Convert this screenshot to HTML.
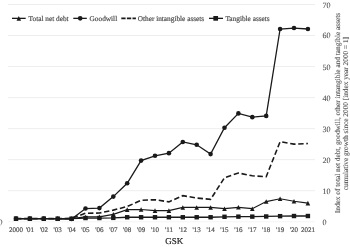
<!DOCTYPE html>
<html><head><meta charset="utf-8"><style>
html,body{margin:0;padding:0;background:#fff;}
svg{display:block;will-change:transform;}
text{font-family:"Liberation Serif",serif;fill:#505050;text-rendering:geometricPrecision;stroke:#505050;stroke-width:0.2px;}
.lg{font-size:7.3px;}
.xl{font-size:7px;text-anchor:middle;}
.yl{font-size:8.1px;stroke-width:0.1px;}
.gsk{font-size:9px;text-anchor:middle;fill:#262626;stroke:#262626;}
.at{font-size:7.3px;text-anchor:middle;stroke-width:0.1px;}
</style></head><body>
<svg width="350" height="247" viewBox="0 0 350 247">
<line x1="8" y1="221.75" x2="315" y2="221.75" stroke="#f4f4f4" stroke-width="1"/>
<line x1="8" y1="190.71" x2="315" y2="190.71" stroke="#eeeeee" stroke-width="1"/>
<line x1="8" y1="159.67" x2="315" y2="159.67" stroke="#eeeeee" stroke-width="1"/>
<line x1="8" y1="128.63" x2="315" y2="128.63" stroke="#eeeeee" stroke-width="1"/>
<line x1="8" y1="97.59" x2="315" y2="97.59" stroke="#eeeeee" stroke-width="1"/>
<line x1="8" y1="66.55" x2="315" y2="66.55" stroke="#eeeeee" stroke-width="1"/>
<line x1="8" y1="35.51" x2="315" y2="35.51" stroke="#eeeeee" stroke-width="1"/>
<line x1="8" y1="4.47" x2="315" y2="4.47" stroke="#eeeeee" stroke-width="1"/>
<polyline points="16.00,218.65 29.90,218.65 43.80,218.65 57.70,218.65 71.60,218.65 85.50,216.94 99.40,216.78 113.30,214.30 127.20,209.64 141.10,209.49 155.00,210.58 168.90,210.58 182.80,207.47 196.70,207.47 210.60,207.47 224.50,208.71 238.40,207.29 252.30,208.71 266.20,201.57 280.10,198.78 294.00,201.26 307.90,203.13" fill="none" stroke="#1a1a1a" stroke-width="1.2"/>
<polyline points="16.00,218.65 29.90,218.65 43.80,218.65 57.70,218.80 71.60,219.05 85.50,208.56 99.40,208.09 113.30,196.61 127.20,183.26 141.10,160.60 155.00,155.79 168.90,153.15 182.80,141.98 196.70,144.77 210.60,154.08 224.50,127.70 238.40,113.42 252.30,117.15 266.20,115.90 280.10,28.99 294.00,28.06 307.90,28.99" fill="none" stroke="#1a1a1a" stroke-width="1.3"/>
<polyline points="16.00,218.65 29.90,218.65 43.80,218.65 57.70,218.65 71.60,218.34 85.50,213.21 99.40,213.06 113.30,210.11 127.20,206.54 141.10,200.33 155.00,199.71 168.90,201.88 182.80,195.68 196.70,198.00 210.60,199.40 224.50,177.67 238.40,173.02 252.30,175.81 266.20,176.74 280.10,141.67 294.00,144.15 307.90,143.53" fill="none" stroke="#1a1a1a" stroke-width="1.6" stroke-dasharray="5.4 2.7"/>
<polyline points="16.00,218.65 29.90,218.65 43.80,218.65 57.70,218.65 71.60,218.65 85.50,218.03 99.40,218.03 113.30,217.87 127.20,217.25 141.10,217.25 155.00,217.25 168.90,217.25 182.80,217.25 196.70,217.25 210.60,217.25 224.50,216.78 238.40,216.63 252.30,216.63 266.20,216.47 280.10,216.16 294.00,216.01 307.90,216.01" fill="none" stroke="#1a1a1a" stroke-width="1.3"/>
<path d="M16.00,216.35L18.30,220.95L13.70,220.95Z" fill="#1a1a1a"/>
<path d="M29.90,216.35L32.20,220.95L27.60,220.95Z" fill="#1a1a1a"/>
<path d="M43.80,216.35L46.10,220.95L41.50,220.95Z" fill="#1a1a1a"/>
<path d="M57.70,216.35L60.00,220.95L55.40,220.95Z" fill="#1a1a1a"/>
<path d="M71.60,216.35L73.90,220.95L69.30,220.95Z" fill="#1a1a1a"/>
<path d="M85.50,214.64L87.80,219.24L83.20,219.24Z" fill="#1a1a1a"/>
<path d="M99.40,214.48L101.70,219.08L97.10,219.08Z" fill="#1a1a1a"/>
<path d="M113.30,212.00L115.60,216.60L111.00,216.60Z" fill="#1a1a1a"/>
<path d="M127.20,207.34L129.50,211.94L124.90,211.94Z" fill="#1a1a1a"/>
<path d="M141.10,207.19L143.40,211.79L138.80,211.79Z" fill="#1a1a1a"/>
<path d="M155.00,208.28L157.30,212.88L152.70,212.88Z" fill="#1a1a1a"/>
<path d="M168.90,208.28L171.20,212.88L166.60,212.88Z" fill="#1a1a1a"/>
<path d="M182.80,205.17L185.10,209.77L180.50,209.77Z" fill="#1a1a1a"/>
<path d="M196.70,205.17L199.00,209.77L194.40,209.77Z" fill="#1a1a1a"/>
<path d="M210.60,205.17L212.90,209.77L208.30,209.77Z" fill="#1a1a1a"/>
<path d="M224.50,206.41L226.80,211.01L222.20,211.01Z" fill="#1a1a1a"/>
<path d="M238.40,204.99L240.70,209.59L236.10,209.59Z" fill="#1a1a1a"/>
<path d="M252.30,206.41L254.60,211.01L250.00,211.01Z" fill="#1a1a1a"/>
<path d="M266.20,199.27L268.50,203.87L263.90,203.87Z" fill="#1a1a1a"/>
<path d="M280.10,196.48L282.40,201.08L277.80,201.08Z" fill="#1a1a1a"/>
<path d="M294.00,198.96L296.30,203.56L291.70,203.56Z" fill="#1a1a1a"/>
<path d="M307.90,200.83L310.20,205.43L305.60,205.43Z" fill="#1a1a1a"/>
<circle cx="16.00" cy="218.65" r="2.3" fill="#1a1a1a"/>
<circle cx="29.90" cy="218.65" r="2.3" fill="#1a1a1a"/>
<circle cx="43.80" cy="218.65" r="2.3" fill="#1a1a1a"/>
<circle cx="57.70" cy="218.80" r="2.3" fill="#1a1a1a"/>
<circle cx="71.60" cy="219.05" r="2.3" fill="#1a1a1a"/>
<circle cx="85.50" cy="208.56" r="2.3" fill="#1a1a1a"/>
<circle cx="99.40" cy="208.09" r="2.3" fill="#1a1a1a"/>
<circle cx="113.30" cy="196.61" r="2.3" fill="#1a1a1a"/>
<circle cx="127.20" cy="183.26" r="2.3" fill="#1a1a1a"/>
<circle cx="141.10" cy="160.60" r="2.3" fill="#1a1a1a"/>
<circle cx="155.00" cy="155.79" r="2.3" fill="#1a1a1a"/>
<circle cx="168.90" cy="153.15" r="2.3" fill="#1a1a1a"/>
<circle cx="182.80" cy="141.98" r="2.3" fill="#1a1a1a"/>
<circle cx="196.70" cy="144.77" r="2.3" fill="#1a1a1a"/>
<circle cx="210.60" cy="154.08" r="2.3" fill="#1a1a1a"/>
<circle cx="224.50" cy="127.70" r="2.3" fill="#1a1a1a"/>
<circle cx="238.40" cy="113.42" r="2.3" fill="#1a1a1a"/>
<circle cx="252.30" cy="117.15" r="2.3" fill="#1a1a1a"/>
<circle cx="266.20" cy="115.90" r="2.3" fill="#1a1a1a"/>
<circle cx="280.10" cy="28.99" r="2.3" fill="#1a1a1a"/>
<circle cx="294.00" cy="28.06" r="2.3" fill="#1a1a1a"/>
<circle cx="307.90" cy="28.99" r="2.3" fill="#1a1a1a"/>
<rect x="13.80" y="216.45" width="4.4" height="4.4" fill="#1a1a1a"/>
<rect x="27.70" y="216.45" width="4.4" height="4.4" fill="#1a1a1a"/>
<rect x="41.60" y="216.45" width="4.4" height="4.4" fill="#1a1a1a"/>
<rect x="55.50" y="216.45" width="4.4" height="4.4" fill="#1a1a1a"/>
<rect x="69.40" y="216.45" width="4.4" height="4.4" fill="#1a1a1a"/>
<rect x="83.30" y="215.83" width="4.4" height="4.4" fill="#1a1a1a"/>
<rect x="97.20" y="215.83" width="4.4" height="4.4" fill="#1a1a1a"/>
<rect x="111.10" y="215.67" width="4.4" height="4.4" fill="#1a1a1a"/>
<rect x="125.00" y="215.05" width="4.4" height="4.4" fill="#1a1a1a"/>
<rect x="138.90" y="215.05" width="4.4" height="4.4" fill="#1a1a1a"/>
<rect x="152.80" y="215.05" width="4.4" height="4.4" fill="#1a1a1a"/>
<rect x="166.70" y="215.05" width="4.4" height="4.4" fill="#1a1a1a"/>
<rect x="180.60" y="215.05" width="4.4" height="4.4" fill="#1a1a1a"/>
<rect x="194.50" y="215.05" width="4.4" height="4.4" fill="#1a1a1a"/>
<rect x="208.40" y="215.05" width="4.4" height="4.4" fill="#1a1a1a"/>
<rect x="222.30" y="214.58" width="4.4" height="4.4" fill="#1a1a1a"/>
<rect x="236.20" y="214.43" width="4.4" height="4.4" fill="#1a1a1a"/>
<rect x="250.10" y="214.43" width="4.4" height="4.4" fill="#1a1a1a"/>
<rect x="264.00" y="214.27" width="4.4" height="4.4" fill="#1a1a1a"/>
<rect x="277.90" y="213.96" width="4.4" height="4.4" fill="#1a1a1a"/>
<rect x="291.80" y="213.81" width="4.4" height="4.4" fill="#1a1a1a"/>
<rect x="305.70" y="213.81" width="4.4" height="4.4" fill="#1a1a1a"/>
<line x1="12" y1="18.35" x2="25.7" y2="18.35" stroke="#1a1a1a" stroke-width="1.3"/>
<path d="M18.80,16.05L21.10,20.65L16.50,20.65Z" fill="#1a1a1a"/>
<g transform="translate(28.6,21.1) scale(1,1.0)"><text x="0" y="0" class="lg">Total net debt</text></g>
<line x1="73.3" y1="18.35" x2="86.8" y2="18.35" stroke="#1a1a1a" stroke-width="1.3"/>
<circle cx="80.2" cy="18.35" r="2.35" fill="#1a1a1a"/>
<g transform="translate(89.6,21.1) scale(1,1.0)"><text x="0" y="0" class="lg">Goodwill</text></g>
<line x1="121.3" y1="18.35" x2="135.9" y2="18.35" stroke="#1a1a1a" stroke-width="1.7" stroke-dasharray="4.3 1.3"/>
<g transform="translate(137.7,21.1) scale(1,1.0)"><text x="0" y="0" class="lg">Other intangible assets</text></g>
<line x1="209" y1="18.35" x2="223" y2="18.35" stroke="#1a1a1a" stroke-width="1.3"/>
<rect x="213.35" y="16.0" width="4.7" height="4.7" fill="#1a1a1a"/>
<g transform="translate(225.4,21.1) scale(1,1.0)"><text x="0" y="0" class="lg">Tangible assets</text></g>
<text x="16.00" y="232.1" class="xl">2000</text>
<text x="29.90" y="232.1" class="xl">'01</text>
<text x="43.80" y="232.1" class="xl">'02</text>
<text x="57.70" y="232.1" class="xl">'03</text>
<text x="71.60" y="232.1" class="xl">'04</text>
<text x="85.50" y="232.1" class="xl">'05</text>
<text x="99.40" y="232.1" class="xl">'06</text>
<text x="113.30" y="232.1" class="xl">'07</text>
<text x="127.20" y="232.1" class="xl">'08</text>
<text x="141.10" y="232.1" class="xl">'09</text>
<text x="155.00" y="232.1" class="xl">'10</text>
<text x="168.90" y="232.1" class="xl">'11</text>
<text x="182.80" y="232.1" class="xl">'12</text>
<text x="196.70" y="232.1" class="xl">'13</text>
<text x="210.60" y="232.1" class="xl">'14</text>
<text x="224.50" y="232.1" class="xl">'15</text>
<text x="238.40" y="232.1" class="xl">'16</text>
<text x="252.30" y="232.1" class="xl">'17</text>
<text x="266.20" y="232.1" class="xl">'18</text>
<text x="280.10" y="232.1" class="xl">'19</text>
<text x="294.00" y="232.1" class="xl">'20</text>
<text x="307.90" y="232.1" class="xl">2021</text>
<text x="322.4" y="225" class="yl">0</text>
<text x="322.4" y="194" class="yl">10</text>
<text x="322.4" y="163" class="yl">20</text>
<text x="322.4" y="132" class="yl">30</text>
<text x="322.4" y="101" class="yl">40</text>
<text x="322.4" y="70" class="yl">50</text>
<text x="322.4" y="38" class="yl">60</text>
<text x="322.4" y="8" class="yl">70</text>
<text x="-1.5" y="224.7" class="yl">0</text>
<text x="174.2" y="244" class="gsk">GSK</text>
<g transform="translate(-0.4,113.0) rotate(-90)"><text x="0" y="340.6" class="at">Index of total net debt, goodwill, other intangible and tangible assets</text><text x="-0.6" y="348.8" class="at">cumulative growth since 2000 [index year 2000 = 1]</text></g>
</svg>
</body></html>
